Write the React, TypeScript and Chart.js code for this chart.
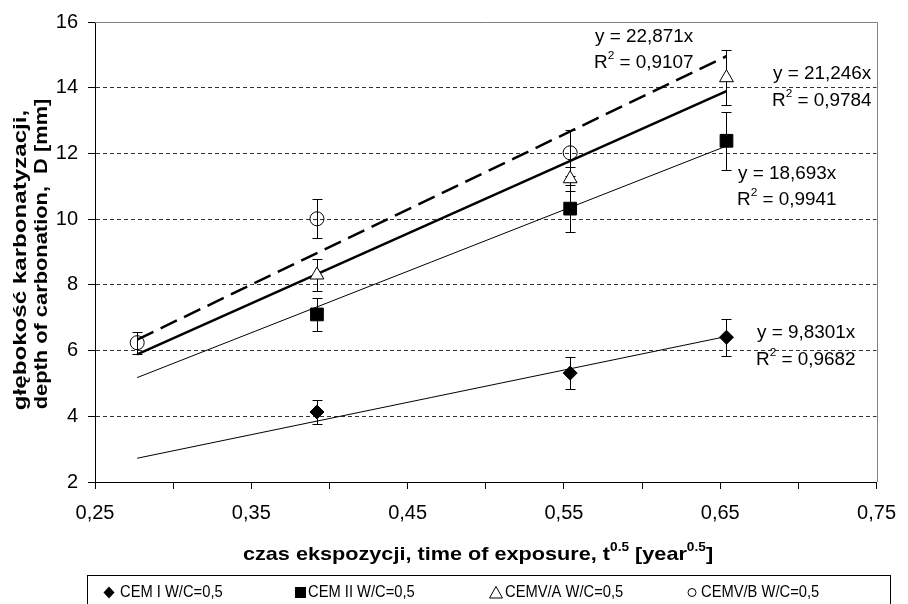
import React, { useEffect, useRef } from 'react';
import { Chart, registerables } from 'chart.js';

Chart.register(...registerables);

// ---------- data ----------
const timeX = [0.277, 0.392, 0.554, 0.654];
const seriesNames = ['CEM I W/C=0,5', 'CEM II W/C=0,5', 'CEMV/A W/C=0,5', 'CEMV/B W/C=0,5'];
const cem1 = [null, 4.13, 5.315, 6.405];
const cem1Err = [null, 0.36, 0.475, 0.565];
const cem2 = [null, 7.1, 10.32, 12.385];
const cem2Err = [null, 0.49, 0.71, 0.875];
const cemVA = [null, 8.3, 11.23, 14.305];
const cemVAErr = [null, 0.48, 0.37, 0.835];
const cemVB = [6.24, 10.01, 12.02, null];
const cemVBErr = [0.33, 0.59, 0.7, null];
const trendSlopes = [9.8301, 18.693, 21.246, 22.871];
const trendRange = [0.277, 0.654];
const trendEquations = ['y = 9,8301x', 'y = 18,693x', 'y = 21,246x', 'y = 22,871x'];
const trendR2 = ['0,9682', '0,9941', '0,9784', '0,9107'];
const yRange = [2, 16];
const yStep = 2;
const xRange = [0.25, 0.75];
const xStep = 0.05;

const seriesValues = [cem1, cem2, cemVA, cemVB];
const seriesErrors = [cem1Err, cem2Err, cemVAErr, cemVBErr];

const FONT = "'Liberation Sans', Arial, sans-serif";

type Seg = { t: string; size: number; dy?: number };

function drawRich(ctx: CanvasRenderingContext2D, segs: Seg[], x: number, y: number, weight: string, sx: number, align: 'left' | 'center') {
  ctx.save();
  ctx.textBaseline = 'middle';
  ctx.textAlign = 'left';
  ctx.fillStyle = '#000';
  let total = 0;
  const widths = segs.map((s) => {
    ctx.font = `${weight} ${s.size}px ${FONT}`;
    const w = ctx.measureText(s.t).width * sx;
    total += w;
    return w;
  });
  let cx = align === 'center' ? x - total / 2 : x;
  segs.forEach((s, i) => {
    ctx.font = `${weight} ${s.size}px ${FONT}`;
    ctx.save();
    ctx.translate(cx, y + (s.dy || 0));
    ctx.scale(sx, 1);
    ctx.fillText(s.t, 0, 0);
    ctx.restore();
    cx += widths[i];
  });
  ctx.restore();
}

const decorPlugin = {
  id: 'decor',
  beforeDatasetsDraw(chart: any) {
    const { ctx, chartArea, scales } = chart;
    const xs = scales.x;
    const ys = scales.y;
    ctx.save();
    // plot-area border top & right (gray)
    ctx.strokeStyle = '#808080';
    ctx.lineWidth = 1;
    ctx.setLineDash([]);
    ctx.beginPath();
    ctx.moveTo(chartArea.left, Math.round(chartArea.top) + 0.5);
    ctx.lineTo(Math.round(chartArea.right) + 0.5, Math.round(chartArea.top) + 0.5);
    ctx.lineTo(Math.round(chartArea.right) + 0.5, chartArea.bottom);
    ctx.stroke();
    // error bars
    ctx.strokeStyle = '#000';
    seriesValues.forEach((vals, si) => {
      vals.forEach((v, i) => {
        if (v == null) return;
        const e = seriesErrors[si][i] as number;
        const px = Math.round(xs.getPixelForValue(timeX[i])) + 0.5;
        const top = Math.round(ys.getPixelForValue(v + e)) + 0.5;
        const bot = Math.round(ys.getPixelForValue(v - e)) + 0.5;
        ctx.beginPath();
        ctx.moveTo(px, top);
        ctx.lineTo(px, bot);
        ctx.moveTo(px - 5, top);
        ctx.lineTo(px + 5, top);
        ctx.moveTo(px - 5, bot);
        ctx.lineTo(px + 5, bot);
        ctx.stroke();
      });
    });
    ctx.restore();
  },
  afterDraw(chart: any) {
    const { ctx } = chart;
    ctx.save();
    // trendline equations
    const eqPos = [
      [757, 333, 360],
      [738, 174, 200],
      [773, 74, 101],
      [595, 37, 63],
    ];
    eqPos.forEach((p, i) => {
      drawRich(ctx, [{ t: trendEquations[i], size: 17.5 }], p[0], p[1], 'normal', 1.08, 'left');
      drawRich(
        ctx,
        [
          { t: 'R', size: 17.5 },
          { t: '2', size: 11, dy: -7 },
          { t: ' = ' + trendR2[i], size: 17.5 },
        ],
        p[0] - 1,
        p[2],
        'normal',
        1.08,
        'left'
      );
    });
    // x title
    drawRich(
      ctx,
      [
        { t: 'czas ekspozycji, time of exposure, t', size: 19 },
        { t: '0.5', size: 12, dy: -7 },
        { t: ' [year', size: 19 },
        { t: '0.5', size: 12, dy: -7 },
        { t: ']', size: 19 },
      ],
      478,
      555,
      'bold',
      1.14,
      'center'
    );
    // y title
    ctx.save();
    ctx.rotate(-Math.PI / 2);
    drawRich(ctx, [{ t: 'głębokość karbonatyzacji,', size: 19 }], -260, 21, 'bold', 1.27, 'center');
    drawRich(ctx, [{ t: 'depth of carbonation,  D [mm]', size: 19 }], -254, 42, 'bold', 1.15, 'center');
    ctx.restore();
    // legend box
    ctx.strokeStyle = '#000';
    ctx.lineWidth = 1;
    ctx.strokeRect(87.5, 575.5, 803, 40);
    const ly = 592.5;
    const symX = [109, 300.5, 496, 692];
    const txtX = [120, 308, 505, 701];
    ctx.fillStyle = '#000';
    // diamond
    ctx.beginPath();
    ctx.moveTo(symX[0], ly - 6);
    ctx.lineTo(symX[0] + 5.5, ly);
    ctx.lineTo(symX[0], ly + 6);
    ctx.lineTo(symX[0] - 5.5, ly);
    ctx.closePath();
    ctx.fill();
    // square
    ctx.fillRect(symX[1] - 5.5, ly - 5.5, 11, 11);
    // triangle
    ctx.beginPath();
    ctx.moveTo(symX[2], ly - 6);
    ctx.lineTo(symX[2] + 6.5, ly + 5.5);
    ctx.lineTo(symX[2] - 6.5, ly + 5.5);
    ctx.closePath();
    ctx.stroke();
    // circle
    ctx.beginPath();
    ctx.arc(symX[3], ly, 4, 0, Math.PI * 2);
    ctx.stroke();
    seriesNames.forEach((n, i) => {
      drawRich(ctx, [{ t: n, size: 16 }], txtX[i], ly + 0.5, 'normal', 0.92, 'left');
    });
    ctx.restore();
  },
};

export default function App() {
  const ref = useRef<HTMLCanvasElement | null>(null);
  useEffect(() => {
    if (!ref.current) return;
    const pointStyles: any[] = ['rectRot', 'rect', 'triangle', 'circle'];
    const pointRadii = [7, 9, 8, 7];
    const pointFills = ['#000', '#000', '#fff', 'rgba(0,0,0,0)'];
    const pointDatasets = seriesValues.map((vals, si) => ({
      label: seriesNames[si],
      data: timeX
        .map((x, i) => (vals[i] == null ? null : { x, y: vals[i] as number }))
        .filter((p) => p !== null),
      showLine: false,
      pointStyle: pointStyles[si],
      pointRadius: pointRadii[si],
      pointBackgroundColor: pointFills[si],
      pointBorderColor: '#000',
      pointBorderWidth: 1,
      backgroundColor: pointFills[si],
      borderColor: '#000',
      order: 0,
    }));
    const lineWidths = [1, 1, 2.5, 2.5];
    const lineDashes = [[], [], [], [18, 8]];
    const trendDatasets = trendSlopes.map((k, si) => ({
      label: 'trend ' + seriesNames[si],
      data: trendRange.map((x) => ({ x, y: k * x })),
      showLine: true,
      pointRadius: 0,
      borderColor: '#000',
      borderWidth: lineWidths[si],
      borderDash: lineDashes[si],
      fill: false,
      order: 1,
    }));
    const chart = new Chart(ref.current, {
      type: 'scatter',
      data: { datasets: [...trendDatasets, ...pointDatasets] as any },
      options: {
        animation: false,
        responsive: false,
        events: [],
        layout: { padding: { top: 16, right: 23, left: 0, bottom: 0 } },
        plugins: { legend: { display: false }, tooltip: { enabled: false } },
        scales: {
          x: {
            type: 'linear',
            min: xRange[0],
            max: xRange[1],
            afterFit: (s: any) => {
              s.height = 122;
            },
            ticks: {
              stepSize: xStep,
              autoSkip: false,
              maxRotation: 0,
              padding: 12,
              color: '#000',
              font: { family: FONT, size: 20 },
              callback: (v: any) => {
                const k = Math.round(Number(v) * 100);
                return k % 10 === 5 ? (k / 100).toFixed(2).replace('.', ',') : '';
              },
            },
            grid: {
              drawOnChartArea: false,
              drawTicks: true,
              tickLength: 7,
              color: '#000',
              tickColor: '#000',
            },
            border: { color: '#000', width: 1 },
          },
          y: {
            min: yRange[0],
            max: yRange[1],
            afterFit: (s: any) => {
              s.width = 95;
            },
            ticks: {
              stepSize: yStep,
              padding: 10,
              color: '#000',
              font: { family: FONT, size: 20 },
              callback: (v: any) => String(v),
            },
            grid: {
              color: (c: any) =>
                c.tick && (c.tick.value === yRange[0] || c.tick.value === yRange[1]) ? 'rgba(0,0,0,0)' : '#333',
              tickColor: '#000',
              tickBorderDash: [1, 0],
              tickLength: 7,
              drawTicks: true,
            } as any,
            border: { color: '#000', width: 1, dash: [4, 3] } as any,
          },
        },
      },
      plugins: [decorPlugin],
    });
    return () => chart.destroy();
  }, []);
  return (
    <div style={{ position: 'absolute', left: 0, top: 0, width: 908, height: 604, background: '#fff' }}>
      <canvas ref={ref} width={908} height={604} style={{ width: 908, height: 604, display: 'block' }} />
    </div>
  );
}
